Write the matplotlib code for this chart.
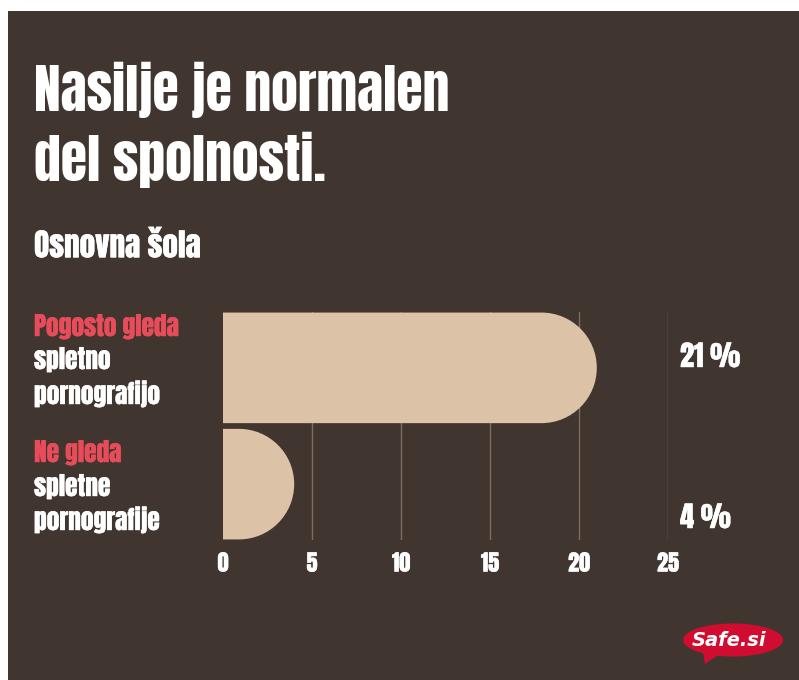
import matplotlib
matplotlib.use("Agg")
import matplotlib.pyplot as plt
import matplotlib.patheffects as pe
from matplotlib.patches import Rectangle, PathPatch, Ellipse, Polygon
from matplotlib.path import Path
from matplotlib import font_manager

# Data
categories_red = ["Pogosto gleda", "Ne gleda"]
categories_white = [["spletno", "pornografijo"], ["spletne", "pornografije"]]
values = [21, 4]
value_labels = ["21 %", "4 %"]
xticks = [0, 5, 10, 15, 20, 25]

title_lines = ["Nasilje je normalen", "del spolnosti."]
subtitle = "Osnovna šola"

BG = "#41362f"
BAR = "#dcc2a6"
RED = "#e84c5a"
GRID = "#7b6b5f"
LOGO = "#d00d30"

names = {f.name for f in font_manager.fontManager.ttflist}
FONT = "DejaVu Sans"
for cand in ["Anton", "Oswald", "Fjalla One", "Roboto Condensed", "Liberation Sans Narrow"]:
    if cand in names:
        FONT = cand
        break
plt.rcParams['font.family'] = [FONT, 'DejaVu Sans']

W, H = 799, 680
fig = plt.figure(figsize=(W / 100, H / 100), dpi=100)
fig.patch.set_facecolor("white")

def fx(px):
    return px / W

def fy(py):
    return 1 - py / H

def bolder(color, lw=0.3):
    return [pe.withStroke(linewidth=lw, foreground=color)]

# dark panel
fig.add_artist(Rectangle((fx(8), 0), fx(799) - fx(8), fy(11), transform=fig.transFigure,
                         facecolor=BG, edgecolor="none", zorder=0))

# axes: x 0..25 spans px 223..668, y spans px 312..540
ax = fig.add_axes([fx(223), fy(540), fx(668) - fx(223), fy(312) - fy(540)])
ax.set_facecolor("none")
ax.set_xlim(0, 25)
ax.set_ylim(0, 2)
for s in ax.spines.values():
    s.set_visible(False)
ax.set_yticks([])
ax.set_xticks(xticks)
ax.set_xticklabels([str(t) for t in xticks])
ax.tick_params(axis="x", length=0, pad=9, labelsize=16, labelcolor="white")
for lab in ax.get_xticklabels():
    lab.set_path_effects(bolder("white"))
for t in xticks[1:]:
    ax.axvline(t, color=GRID, lw=1, zorder=1)

# rounded-end bars (right end is a semicircle in screen space)
sx = (668 - 223) / 25.0
sy = (540 - 312) / 2.0
centers = [1.51, 0.49]
bh = 0.97

def rounded_bar(v, c, h):
    ry = h / 2
    rx = ry * sy / sx
    x1 = v - rx
    k = 0.5523
    y0, y1 = c - h / 2, c + h / 2
    verts = [(0, y0), (x1, y0),
             (x1 + k * rx, y0), (v, c - k * ry), (v, c),
             (v, c + k * ry), (x1 + k * rx, y1), (x1, y1),
             (0, y1), (0, y0)]
    codes = [Path.MOVETO, Path.LINETO,
             Path.CURVE4, Path.CURVE4, Path.CURVE4,
             Path.CURVE4, Path.CURVE4, Path.CURVE4,
             Path.LINETO, Path.CLOSEPOLY]
    return PathPatch(Path(verts, codes), facecolor=BAR, edgecolor="none", zorder=3)

for v, c in zip(values, centers):
    ax.add_patch(rounded_bar(v, c, bh))

# value labels
for lab, base in zip(value_labels, [367, 528]):
    fig.text(fx(680), fy(base), lab, color="white", fontsize=20.5,
             ha="left", va="baseline", path_effects=bolder("white"))

# category labels
label_bases = [[336, 369, 404], [462, 496, 530]]
for red, whites, bases in zip(categories_red, categories_white, label_bases):
    fig.text(fx(34), fy(bases[0]), red, color=RED, fontsize=18.3, va="baseline",
             path_effects=bolder(RED))
    for line, b in zip(whites, bases[1:]):
        fig.text(fx(34), fy(b), line, color="white", fontsize=18.3, va="baseline",
                 path_effects=bolder("white"))

# title / subtitle
for line, b in zip(title_lines, [111.5, 181.5]):
    fig.text(fx(34), fy(b), line, color="white", fontsize=38.6, va="baseline")
fig.text(fx(34), fy(257.3), subtitle, color="white", fontsize=22.5, va="baseline",
         path_effects=bolder("white"))

# logo
fig.add_artist(Ellipse((fx(733), fy(640)), fx(100), 33 / H, transform=fig.transFigure,
                       facecolor=LOGO, edgecolor="none"))
fig.add_artist(Polygon([(fx(703), fy(652)), (fx(718), fy(655)), (fx(705), fy(664))],
                       transform=fig.transFigure, facecolor=LOGO, edgecolor="none"))
fig.text(fx(729), fy(646), "Safe.si", color="white", fontsize=14, style="italic",
         fontweight="semibold", ha="center", va="baseline", family="DejaVu Sans")

fig.savefig("out.png", dpi=100, facecolor=fig.get_facecolor())
